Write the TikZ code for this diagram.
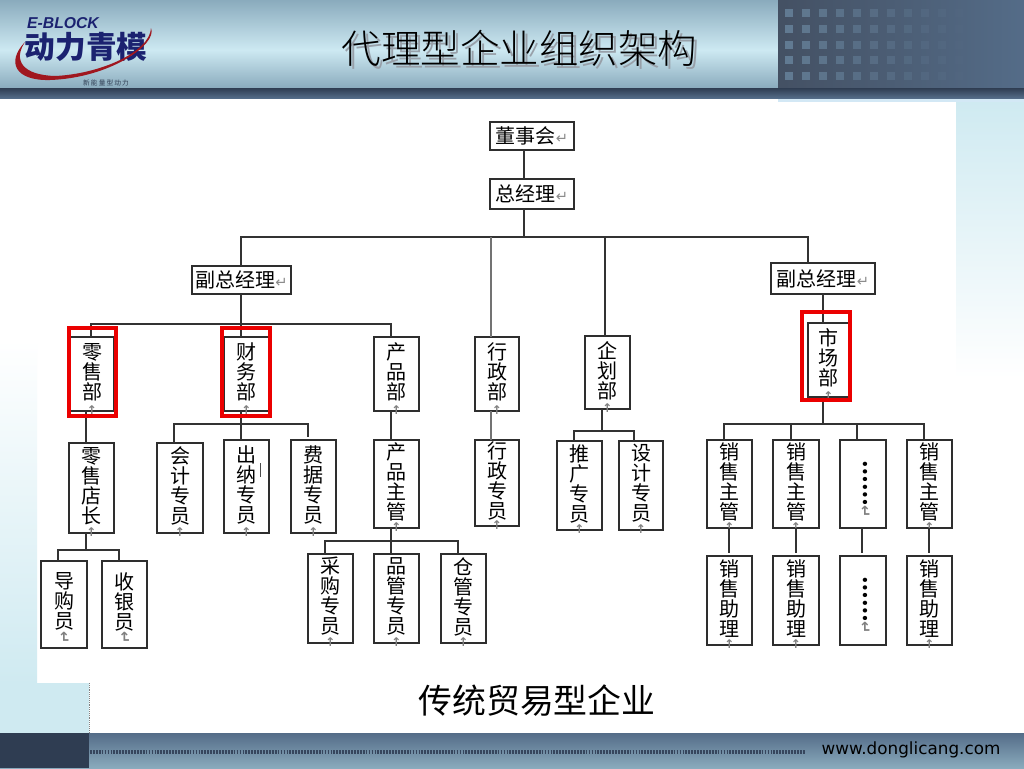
\documentclass[tikz,border=0pt]{standalone}
\usepackage{fontspec}
\setmainfont{DejaVu Sans}
\newfontfamily\cjk{Noto Sans CJK SC}
\newfontfamily\cjkl[UprightFont=* Light]{Noto Sans CJK SC}
\newfontfamily\sym{DejaVu Sans}
\newfontfamily\latinb{Liberation Sans}
\usetikzlibrary{calc}
\definecolor{pale}{HTML}{CFEAF1}
\definecolor{band}{HTML}{D3E8F5}
\definecolor{barD}{HTML}{2F3D52}
\definecolor{barM}{HTML}{546C88}
\definecolor{barL}{HTML}{8AABBD}
\definecolor{headL}{HTML}{CDE9F2}
\definecolor{logoB}{HTML}{1B2270}
\definecolor{logoR}{HTML}{A0171F}
\tikzset{
 x=0.75pt,y=-0.75pt,
 orgbox/.style={draw=black!82,line width=1.25pt,fill=white,inner sep=0pt,outer sep=0pt},
 link/.style={draw=black!80,line width=1.25pt},
 greylink/.style={draw=black!55,line width=1.6pt},
 redbox/.style={draw=red!92!black,line width=2.6pt},
 vlabel/.style={font=\cjk\fontsize{15}{15}\selectfont,align=center,text=black},
 hlabel/.style={font=\cjk\fontsize{15}{15}\selectfont,text=black},
 markup/.style={font=\sym\bfseries\fontsize{9}{9}\selectfont,text=black!50,inner sep=0pt},
 markret/.style={font=\sym\bfseries\fontsize{11}{11}\selectfont,text=black!50,inner sep=0pt,rotate=-90},
}
\newcommand{\ret}{{\sym\fontsize{11}{11}\selectfont\textcolor{black!45}{↵}}}
\newcommand{\obox}[6]{%
 \node[orgbox,minimum width={(#4-#2)*0.75pt},minimum height={(#5-#3)*0.75pt}] (#1) at ({(#2+#4)/2},{(#3+#5)/2}) {};
 \node[vlabel] (#1t) at ({(#2+#4)/2},{(#3+#5)/2-2}) {#6};
 \node[markup] (#1m) at ({(#2+#4)/2},{#5-1}) {↑};
}
\newcommand{\rbox}[6]{%
 \node[orgbox,minimum width={(#4-#2)*0.75pt},minimum height={(#5-#3)*0.75pt}] (#1) at ({(#2+#4)/2},{(#3+#5)/2}) {};
 \node[vlabel] (#1t) at ({(#2+#4)/2},{(#3+#5)/2-3}) {#6};
 \node[markret] (#1m) at ({(#2+#4)/2},{#5-10}) {↵};
}
\newcommand{\dbox}[5]{%
 \node[orgbox,minimum width={(#4-#2)*0.75pt},minimum height={(#5-#3)*0.75pt}] (#1) at ({(#2+#4)/2},{(#3+#5)/2}) {};
 \node[font=\cjk\bfseries\fontsize{15}{15}\selectfont,rotate=-90,inner sep=0pt] (#1t) at ({(#2+#4)/2+2},{#3+43}) {……};
 \node[markret] (#1m) at ({(#2+#4)/2+2},{#3+72}) {↵};
}
\newcommand{\hbx}[6]{%
 \node[orgbox,minimum width={(#4-#2)*0.75pt},minimum height={(#5-#3)*0.75pt}] (#1) at ({(#2+#4)/2},{(#3+#5)/2}) {};
 \node[hlabel] (#1t) at ({(#2+#4)/2},{(#3+#5)/2}) {#6\ret};
}
\begin{document}
\begin{tikzpicture}
\useasboundingbox (0,0) rectangle (1024,768);
\fill[white] (0,0) rectangle (1024,768);
% background
\shade[top color=white,bottom color=pale] (0,340) rectangle (37,684);
\fill[pale] (0,683) rectangle (89,733);
\shade[top color=pale,bottom color=white] (956,102) rectangle (1024,378);
\fill[band] (778,97) rectangle (1024,102);
\draw[black!50,line width=0.4pt,densely dotted] (89,683) -- (89,733);
% header
\shade[top color=barL,bottom color=headL] (0,0) rectangle (778,50);
\shade[top color=headL,bottom color=barL] (0,50) rectangle (778,88);
\shade[left color=barD!90!white,right color=barM] (778,0) rectangle (1024,88);
\shade[top color=barD,bottom color=barM] (0,88) rectangle (1024,98);
\foreach \i [evaluate=\i as \o using {max(0,0.85-\i*0.08)}] in {0,...,10}
 \foreach \j in {0,...,4}
  \fill[barL!35!barM,opacity=\o] ({785+\i*17},{9+\j*15.8}) rectangle ++(8,8);
% logo
\node[font=\latinb\bfseries\itshape\fontsize{11.8}{13}\selectfont,text=logoB,inner sep=0pt] (brand) at (63,23) {E-BLOCK};
\node[font=\cjk\bfseries\fontsize{23}{24}\selectfont,text=logoB,inner sep=0pt] (brandcn) at (86,47) {动力青模};
\fill[logoR] (151,28) .. controls (158,44) and (110,78) .. (50,80) .. controls (15,81) and (6,62) .. (25,42)
 .. controls (13,60) and (22,75) .. (55,76) .. controls (100,74) and (150,52) .. (151,28) -- cycle;
\node[font=\cjk\fontsize{5}{6}\selectfont,text=barD,inner sep=0pt] (tagline) at (106,82.5) {新\,能\,量\,型\,动\,力};
% title
\node[font=\cjkl\fontsize{29.6}{32}\selectfont,text=barM!45!gray!70!white,inner sep=0pt] (titleshadow) at (522.5,51) {代理型企业组织架构};
\node[font=\cjkl\fontsize{29.6}{32}\selectfont,text=black,inner sep=0pt] (title) at (519.5,48) {代理型企业组织架构};
% footer
\shade[top color=barM,bottom color=barL] (0,733) rectangle (1024,768);
\fill[barD] (0,733) rectangle (89,768);
\draw[barD!80!barM,line width=2.6pt,dash pattern=on 1.3pt off 0.9pt] (90,752) -- (805,752);
\node[font=\fontsize{12.6}{15}\selectfont,text=black,inner sep=0pt] (web) at (911,750) {www.donglicang.com};
\node[font=\cjk\fontsize{25.4}{28}\selectfont,text=black,inner sep=0pt] (caption) at (537,701) {传统贸易型企业};
% boxes
\hbx{board}{490}{122}{574}{150}{董事会}
\hbx{gm}{490}{179}{574}{209}{总经理}
\hbx{vpl}{192}{266}{291}{294}{副总经理}
\hbx{vpr}{771}{263}{875}{294}{副总经理}
\obox{retail}{70}{337}{114}{411}{零\\售\\部}
\obox{fin}{224}{337}{269}{411}{财\\务\\部}
\obox{prod}{374}{337}{419}{411}{产\\品\\部}
\obox{admin}{475}{337}{519}{411}{行\\政\\部}
\obox{plan}{585}{336}{630}{409}{企\\划\\部}
\obox{mkt}{808}{323}{849}{397}{市\\场\\部}
\obox{store}{69}{443}{114}{533}{零\\售\\店\\长}
\obox{acct}{157}{443}{203}{533}{会\\计\\专\\员}
\obox{cash}{224}{440}{269}{533}{出\\纳\\专\\员}
\obox{bill}{291}{440}{336}{533}{费\\据\\专\\员}
\obox{pm}{374}{440}{419}{528}{产\\品\\主\\管}
\rbox{guide}{41}{561}{87}{648}{导\\购\\员}
\rbox{till}{102}{561}{147}{648}{收\\银\\员}
\obox{buy}{308}{554}{353}{643}{采\\购\\专\\员}
\obox{qc}{374}{554}{419}{643}{品\\管\\专\\员}
\obox{ware}{441}{554}{486}{643}{仓\\管\\专\\员}
\obox{adm2}{475}{440}{519}{526}{行\\政\\专\\员}
\obox{promo}{557}{441}{602}{530}{推\\广\\专\\员}
\obox{design}{619}{441}{663}{530}{设\\计\\专\\员}
\obox{sa}{707}{440}{752}{528}{销\\售\\主\\管}
\obox{sb}{773}{440}{819}{528}{销\\售\\主\\管}
\dbox{sc}{840}{440}{886}{528}
\obox{sd}{907}{440}{952}{528}{销\\售\\主\\管}
\obox{aa}{707}{556}{752}{645}{销\\售\\助\\理}
\obox{ab}{773}{556}{819}{645}{销\\售\\助\\理}
\dbox{ac}{840}{556}{886}{645}
\obox{ad}{907}{556}{952}{645}{销\\售\\助\\理}
% bus junctions
\coordinate (busTop) at (524,237);
\coordinate (busVP) at (241,324);
\coordinate (busFin) at (241,424);
\coordinate (busProd) at (391,541);
\coordinate (busStore) at (86,550);
\coordinate (busPlan) at (602,431);
\coordinate (busMkt) at (823,424);
% connectors
\draw[link] (board.south -| busTop) -- (gm.north -| busTop);
\draw[link] (gm.south -| busTop) -- (busTop);
\draw[link] (vpl.north -| busVP) -- (busTop -| busVP) -- (808,237) -- (vpr.north -| 808,0);
\draw[greylink] (491,237) -- (admin.north -| 491,0);
\draw[link] (605,237) -- (plan.north -| 605,0);
\draw[link] (vpl.south -| busVP) -- (fin.north -| busVP);
\draw[link] (retail.north -| 91,0) -- (busVP -| 91,0) -- (busVP -| busProd) -- (prod.north -| busProd);
\draw[link] (retail.south -| busStore) -- (store.north -| busStore);
\draw[link] (fin.south -| busVP) -- (cash.north -| busVP);
\draw[link] (174,443) -- (174,424) -- (busFin) -- (308,424) -- (308,437);
\draw[link] (prod.south -| busProd) -- (pm.north -| busProd);
\draw[link] (pm.south -| busProd) -- (qc.north -| busProd);
\draw[link] (325,554) -- (325,541) -- (busProd) -- (458,541) -- (458,554);
\draw[link] (store.south -| busStore) -- (busStore);
\draw[link] (58,561) -- (58,550) -- (busStore) -- (119,550) -- (119,561);
\draw[greylink] (admin.south -| 491,0) -- (adm2.north -| 491,0);
\draw[link] (plan.south -| busPlan) -- (busPlan);
\draw[link] (574,441) -- (574,431) -- (busPlan) -- (634,431) -- (634,441);
\draw[link] (mkt.south -| busMkt) -- (busMkt);
\draw[link] (vpr.south) -- (mkt.north -| vpr.south);
\draw[link] (724,440) -- (724,424) -- (busMkt) -- (924,424) -- (924,440);
\draw[link] (791,424) -- (791,440);
\draw[link] (857,424) -- (857,440);
\draw[link] (729,528) -- (729,553);
\draw[link] (796,528) -- (796,553);
\draw[link] (862,528) -- (862,553);
\draw[link] (929,528) -- (929,553);
% stray tick
\draw[black!70,line width=0.5pt] (260,463) -- (260,477);
% red highlights
\draw[redbox] (69,328) rectangle (116,416);
\draw[redbox] (222,328) rectangle (270,416);
\draw[redbox] (802,312) rectangle (850,400);
\end{tikzpicture}
\end{document}
